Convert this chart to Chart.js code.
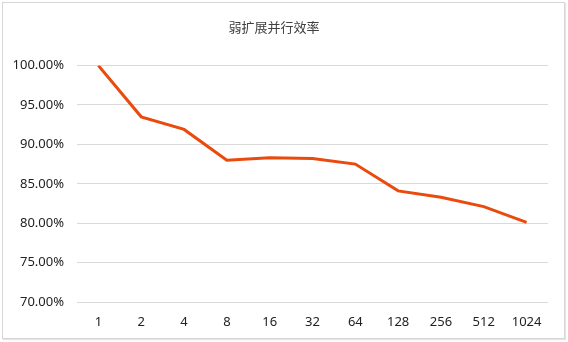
<!DOCTYPE html>
<html>
<head>
<meta charset="utf-8">
<script src="https://cdn.jsdelivr.net/npm/chart.js@4/dist/chart.umd.min.js"></script>
<style>
  html, body { margin: 0; padding: 0; background: #fff; }
  #wrap { position: relative; width: 568px; height: 342px; }
  #frame { position: absolute; left: 2px; top: 2px; width: 561px; height: 335px;
           border: 1px solid #d6d6d6; box-shadow: 1px 1px 1px #e4e4e4; pointer-events: none; }
</style>
</head>
<body>
<div id="wrap">
  <canvas id="myChart" width="568" height="342"></canvas>
  <div id="frame"></div>
</div>
<script>
let title = '弱扩展并行效率';
let nodes = ['1', '2', '4', '8', '16', '32', '64', '128', '256', '512', '1024'];
let efficiency = [100, 93.5, 91.9, 88.0, 88.3, 88.2, 87.5, 84.1, 83.3, 82.1, 80.1]; // %
let yTicks = [70, 75, 80, 85, 90, 95, 100];

const ctx = document.getElementById('myChart').getContext('2d');

const myChart = new Chart(ctx, {
    type: 'line',
    data: {
        labels: nodes,
        datasets: [{
            label: title,
            data: efficiency,
            borderColor: '#EA4A0C',
            borderWidth: 3,
            pointRadius: 0,
            tension: 0,
            fill: false
        }]
    },
    options: {
        responsive: false,
        animation: false,
        layout: { padding: { left: 0, right: 20, top: 0, bottom: 0 } },
        plugins: {
            legend: { display: false },
            tooltip: { enabled: false },
            title: {
                display: true,
                text: title,
                color: '#404040',
                font: { family: '"Noto Sans CJK SC", "Noto Sans"', size: 13, weight: 'normal' },
                padding: { top: 19, bottom: 31 }
            }
        },
        scales: {
            x: {
                offset: true,
                grid: { display: false, drawTicks: false },
                border: { display: false },
                ticks: {
                    color: '#222',
                    padding: 12,
                    maxRotation: 0,
                    font: { family: '"Noto Sans"', size: 13 }
                },
                afterFit: s => { s.height = 40; }
            },
            y: {
                min: yTicks[0],
                max: yTicks[yTicks.length - 1],
                afterBuildTicks: s => { s.ticks = yTicks.map(v => ({ value: v })); },
                grid: { color: '#d9d9d9', lineWidth: 1, drawTicks: false },
                border: { display: false },
                ticks: {
                    color: '#222',
                    padding: 13,
                    font: { family: '"Noto Sans"', size: 13 },
                    callback: v => v.toFixed(2) + '%'
                },
                afterFit: s => { s.width = 77; }
            }
        }
    }
});
</script>
</body>
</html>
